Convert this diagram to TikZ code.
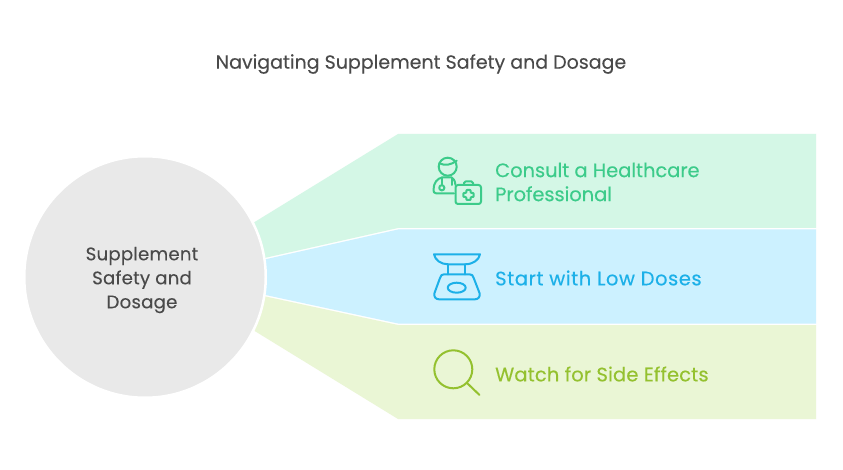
\documentclass[tikz,border=0pt]{standalone}
\usepackage{fontspec}
\setmainfont{Poppins}[FakeBold=0.12]
\newfontfamily\spacedA{Poppins}[FakeBold=0.25,LetterSpace=2.8]
\newfontfamily\spacedB{Poppins}[FakeBold=0.25,LetterSpace=0.7]
\newfontfamily\spacedC{Poppins}[FakeBold=0.25,LetterSpace=-0.4]
\newfontfamily\spacedD{Poppins}[FakeBold=0.12,LetterSpace=1]
\definecolor{gfill}{HTML}{D4F7E6}
\definecolor{bfill}{HTML}{CCF1FF}
\definecolor{ofill}{HTML}{EAF6D5}
\definecolor{gtext}{HTML}{3CCB8A}
\definecolor{btext}{HTML}{1CB0E8}
\definecolor{otext}{HTML}{94C12F}
\definecolor{dark}{HTML}{4A4A4A}
\definecolor{hub}{HTML}{E9E9E9}
\tikzset{
  band/.style={draw=none},
  lbl/.style={anchor=west,align=left,inner sep=0pt},
  icon/.style={line width=2pt,line cap=round,line join=round,fill=none},
  gicon/.style={icon,draw=gtext},
  bicon/.style={icon,draw=btext},
  oicon/.style={icon,draw=otext}
}
\begin{document}
\begin{tikzpicture}[x=1pt,y=-1pt]
\useasboundingbox (0,0) rectangle (843,470);
\fill[white] (0,0) rectangle (843,470);
% bands
\fill[band,gfill] (240,231) -- (398,134) -- (816,134) -- (816,228) -- (398,228) -- (240,263.5) -- cycle;
\fill[band,bfill] (240,265) -- (398,229.5) -- (816,229.5) -- (816,323.5) -- (398,323.5) -- (240,289.5) -- cycle;
\fill[band,ofill] (240,291) -- (398,325) -- (816,325) -- (816,419) -- (398,419) -- (240,322) -- cycle;
% hub
\node[circle,fill=hub,draw=white,line width=2.5pt,minimum size=241.5pt,inner sep=0pt] (hubnode) at (145,277) {};
\node[align=center,text=dark,font=\fontsize{18.2}{24}\spacedD] (hubtext) at (142,280) {Supplement\\Safety and\\Dosage};
\node[text=dark,font=\fontsize{19}{24}\selectfont] (title) at (421,64) {Navigating Supplement Safety and Dosage};
% labels
\node[lbl,text=gtext,font=\fontsize{19.5}{24}\spacedC] (l1) at (495,182) {Consult a Healthcare\\Professional};
\node[lbl,text=btext,font=\fontsize{19.5}{24}\spacedA] (l2) at (495,278) {Start with Low Doses};
\node[lbl,text=otext,font=\fontsize{19.5}{24}\spacedB] (l3) at (495,374) {Watch for Side Effects};
% doctor icon
\draw[gicon] (447.7,166.7) circle (9);
\draw[gicon] (439.3,163.3) .. controls (445,166) and (451,165) .. (456.7,160.7);
\draw[gicon] (454,193.3) -- (436,193.3) .. controls (434,193.3) and (433.5,192) .. (433.5,190) .. controls (433.5,183) and (437,178.5) .. (442,177.5) -- (451.5,177.5) .. controls (453,178) and (455,180) .. (455.5,185);
\draw[gicon] (441.8,177.5) -- (441.8,185);
\draw[gicon] (441.8,187.8) circle (2.6);
\draw[gicon] (451.5,177.5) -- (451.5,185);
\draw[gicon,rounded corners=2.5pt] (455.5,185) rectangle (481,204);
\draw[gicon,rounded corners=1.5pt] (464,185) -- (464,181.5) -- (473,181.5) -- (473,185);
\draw[gicon,rounded corners=0.8pt] (466.3,190) -- (470.7,190) -- (470.7,193) -- (473.7,193) -- (473.7,197) -- (470.7,197) -- (470.7,200) -- (466.3,200) -- (466.3,197) -- (463.3,197) -- (463.3,193) -- (466.3,193) -- cycle;
% scale icon
\draw[bicon] (434,254.3) -- (480,254.3) .. controls (479,260) and (473,264.3) .. (465,264.3) -- (448,264.3) .. controls (441,264.3) and (435,260) .. (434,254.3) -- cycle;
\draw[bicon] (448,264.3) -- (448,274.3);
\draw[bicon] (465,264.3) -- (465,274.3);
\draw[bicon] (444,274.3) -- (469.5,274.3) .. controls (472,274.3) and (473,275.5) .. (473.7,278) -- (479.5,293) .. controls (480.5,297) and (478,299.3) .. (475,299.3) -- (439,299.3) .. controls (436,299.3) and (433.5,297) .. (434.5,293) -- (440,278) .. controls (440.7,275.5) and (442,274.3) .. (444,274.3) -- cycle;
\draw[bicon] (456.7,287.7) ellipse (9 and 5);
% magnifier icon
\draw[oicon] (453.3,369.3) circle (19);
\draw[oicon] (466.7,382.7) -- (479.5,395);
\end{tikzpicture}
\end{document}
